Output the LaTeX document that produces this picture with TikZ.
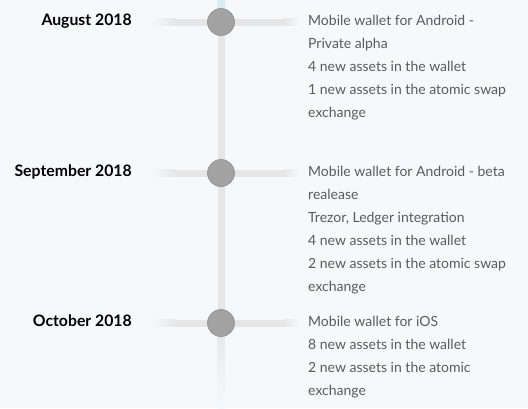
\documentclass[tikz,border=0pt]{standalone}
\usepackage{fontspec}
\setmainfont{Lato}
\usetikzlibrary{calc}
\definecolor{pagebg}{HTML}{F7F8FA}
\definecolor{bargray}{HTML}{E6E6E7}
\definecolor{stemblue}{HTML}{D3EEF7}
\definecolor{dotgray}{HTML}{A2A2A2}
\definecolor{dotedge}{HTML}{939393}
\definecolor{infotext}{HTML}{5B5B5B}

\begin{document}
\begin{tikzpicture}[x=1pt, y=-1pt,
    datelabel/.style={anchor=base east, inner sep=0pt, font=\fontsize{15.8}{18}\selectfont\bfseries, text=black},
    infobox/.style={anchor=north west, inner sep=0pt, align=left, font=\fontsize{14}{23}\selectfont, text=infotext},
    milestone/.style={circle, draw=dotedge, line width=0.7pt, fill=dotgray, minimum size=27pt, inner sep=0pt},
    stem/.style={line width=7pt, draw=bargray}]
    \fill[pagebg] (0,0) rectangle (528,408);
    \useasboundingbox (0,0) rectangle (528,408);
    % the three milestones
    \foreach \i/\y in {1/22, 2/173, 3/323} {
        \coordinate (c\i) at (221,\y);
        \fill[bargray] (175,\y-3.5) rectangle (285,\y+3.5);
        \shade[left color=pagebg, right color=bargray] (150,\y-3.5) rectangle (175.5,\y+3.5);
        \shade[left color=bargray, right color=pagebg] (284.5,\y-3.5) rectangle (300,\y+3.5);
    }
    \coordinate (top) at (221,0);
    \coordinate (bottom) at (221,408);
    \shade[top color=stemblue, bottom color=bargray] (217.5,0) rectangle (224.5,12);
    \draw[stem] (c1) -- (c2);
    \draw[stem] (c2) -- (c3);
    \shade[top color=bargray, bottom color=pagebg] (217.5,323) rectangle (224.5,408);
    \foreach \i/\y/\when in {1/22/August 2018, 2/173/September 2018, 3/323/October 2018} {
        \node[milestone] (dot\i) at (c\i) {};
        \node[datelabel] (date\i) at (132,\y+3.5) {\when};
    }
    % what came with each release
    \node[infobox] (info1) at (308,15) {Mobile wallet for Android -\\Private alpha\\4 new assets in the wallet\\1 new assets in the atomic swap\\exchange};
    \node[infobox] (info2) at (308,166) {Mobile wallet for Android - beta\\realease\\Trezor, Ledger integration\\4 new assets in the wallet\\2 new assets in the atomic swap\\exchange};
    \node[infobox] (info3) at (308,316) {Mobile wallet for iOS\\8 new assets in the wallet\\2 new assets in the atomic\\exchange};
\end{tikzpicture}
\end{document}
